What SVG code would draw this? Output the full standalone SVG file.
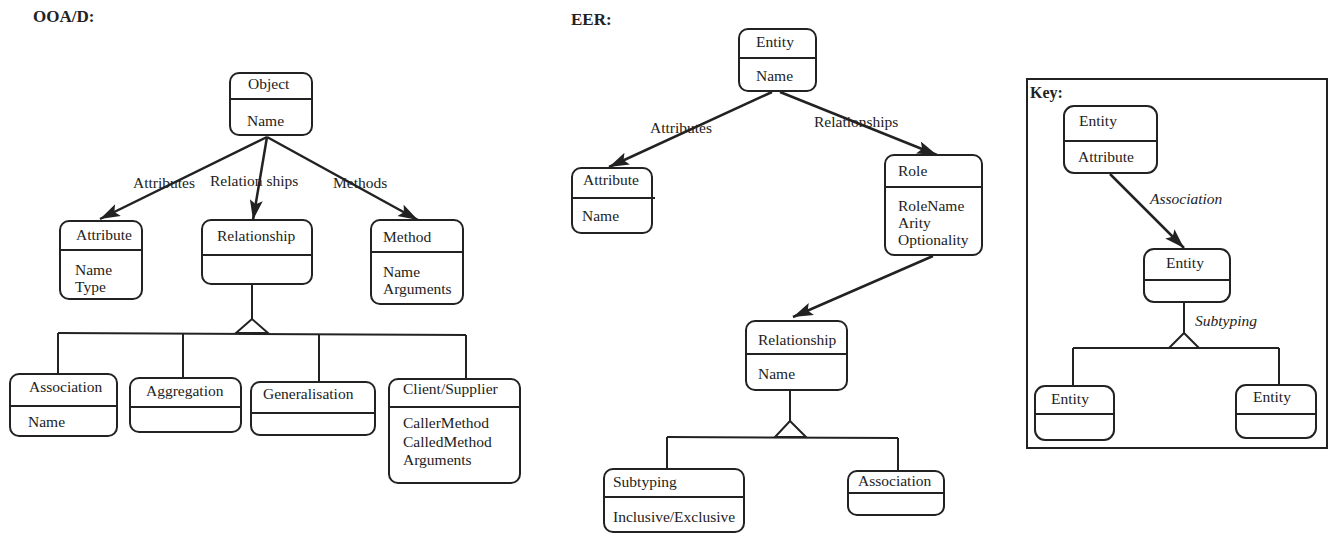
<svg xmlns="http://www.w3.org/2000/svg" width="1333" height="533" viewBox="0 0 1333 533">
  <style>
    .box { fill: #fff; stroke: #222; stroke-width: 2; }
    .div { stroke: #222; stroke-width: 2; }
    .t { font-family: "Liberation Serif", "Times New Roman", serif; font-size: 15.5px; fill: #222; }
    .h { font-family: "Liberation Serif", "Times New Roman", serif; font-size: 17px; font-weight: bold; fill: #222; }
    .i { font-family: "Liberation Serif", "Times New Roman", serif; font-size: 15.5px; font-style: italic; fill: #222; }
    .arr { stroke: #222; stroke-width: 2.5; fill: none; marker-end: url(#head); }
    .ln { stroke: #222; stroke-width: 2; fill: none; }
    .tri { fill: #fff; stroke: #222; stroke-width: 2; stroke-linejoin: miter; }
  </style>
  <defs>
    <marker id="head" markerUnits="userSpaceOnUse" markerWidth="22" markerHeight="14" refX="20" refY="6.5" orient="auto">
      <path d="M0,0 L20,6.5 L0,13 L4,6.5 Z" fill="#222"/>
    </marker>
  </defs>
  <rect width="1333" height="533" fill="#fff"/>

  <!-- section titles -->
  <text class="h" x="33" y="22">OOA/D:</text>
  <text class="h" x="571" y="25">EER:</text>

  <!-- connectors -->
  <g id="connectors">
    <!-- OOA/D -->
    <line class="arr" x1="267" y1="137" x2="100" y2="219"/>
    <line class="arr" x1="267" y1="137" x2="253" y2="220"/>
    <line class="arr" x1="267" y1="137" x2="418" y2="220"/>
    <line class="ln" x1="252" y1="284" x2="252" y2="319"/>
    <line class="ln" x1="58" y1="333" x2="466" y2="335"/>
    <polygon class="tri" points="252,319 236,333 268,333"/>
    <line class="ln" x1="58" y1="333" x2="58" y2="374"/>
    <line class="ln" x1="183" y1="334" x2="183" y2="378"/>
    <line class="ln" x1="319" y1="334" x2="319" y2="382"/>
    <line class="ln" x1="466" y1="335" x2="466" y2="379"/>
    <!-- EER -->
    <line class="arr" x1="772" y1="92" x2="609" y2="167"/>
    <line class="arr" x1="780" y1="92" x2="937" y2="155"/>
    <line class="arr" x1="933" y1="256" x2="793" y2="317"/>
    <line class="ln" x1="790" y1="390" x2="790" y2="421"/>
    <line class="ln" x1="667" y1="437" x2="898" y2="438"/>
    <polygon class="tri" points="790,421 775,437 806,437"/>
    <line class="ln" x1="667" y1="437" x2="667" y2="469"/>
    <line class="ln" x1="898" y1="438" x2="898" y2="471"/>
    <!-- Key -->
    <line class="arr" x1="1110" y1="174" x2="1184" y2="248"/>
    <line class="ln" x1="1184" y1="302" x2="1184" y2="333"/>
    <line class="ln" x1="1073" y1="348" x2="1279" y2="348"/>
    <polygon class="tri" points="1184,333 1169,348 1199,348"/>
    <line class="ln" x1="1073" y1="348" x2="1073" y2="386"/>
    <line class="ln" x1="1279" y1="348" x2="1279" y2="385"/>
  </g>

  <!-- connector labels -->
  <g id="labels">
    <text class="t" x="133" y="188">Attributes</text>
    <text class="t" x="210" y="186">Relation ships</text>
    <text class="t" x="333" y="188">Methods</text>
    <text class="t" x="650" y="133">Attributes</text>
    <text class="t" x="814" y="127">Relationships</text>
    <text class="i" x="1150" y="204">Association</text>
    <text class="i" x="1195" y="326">Subtyping</text>
  </g>

  <!-- OOA/D nodes -->
  <g id="ooa-object">
    <rect class="box" x="230" y="73" width="82" height="62" rx="9"/>
    <line class="div" x1="230" y1="99" x2="312" y2="99"/>
    <text class="t" x="248" y="89">Object</text>
    <text class="t" x="247" y="126">Name</text>
  </g>
  <g id="ooa-attribute">
    <rect class="box" x="60" y="221" width="82" height="78" rx="9"/>
    <line class="div" x1="60" y1="250" x2="142" y2="250"/>
    <text class="t" x="76" y="240">Attribute</text>
    <text class="t" x="75" y="275">Name</text>
    <text class="t" x="75" y="292">Type</text>
  </g>
  <g id="ooa-relationship">
    <rect class="box" x="202" y="220" width="110" height="64" rx="9"/>
    <line class="div" x1="202" y1="255" x2="312" y2="255"/>
    <text class="t" x="217" y="241">Relationship</text>
  </g>
  <g id="ooa-method">
    <rect class="box" x="371" y="220" width="92" height="84" rx="9"/>
    <line class="div" x1="371" y1="252" x2="463" y2="252"/>
    <text class="t" x="383" y="242">Method</text>
    <text class="t" x="383" y="277">Name</text>
    <text class="t" x="383" y="294">Arguments</text>
  </g>
  <g id="ooa-association">
    <rect class="box" x="10" y="374" width="107" height="62" rx="9"/>
    <line class="div" x1="10" y1="406" x2="117" y2="406"/>
    <text class="t" x="29" y="392">Association</text>
    <text class="t" x="28" y="427">Name</text>
  </g>
  <g id="ooa-aggregation">
    <rect class="box" x="130" y="378" width="111" height="54" rx="9"/>
    <line class="div" x1="130" y1="407" x2="241" y2="407"/>
    <text class="t" x="146" y="396">Aggregation</text>
  </g>
  <g id="ooa-generalisation">
    <rect class="box" x="251" y="382" width="124" height="53" rx="9"/>
    <line class="div" x1="251" y1="413" x2="375" y2="413"/>
    <text class="t" x="263" y="399">Generalisation</text>
  </g>
  <g id="ooa-client-supplier">
    <rect class="box" x="389" y="379" width="131" height="104" rx="9"/>
    <line class="div" x1="389" y1="407" x2="520" y2="407"/>
    <text class="t" x="403" y="394">Client/Supplier</text>
    <text class="t" x="403" y="428">CallerMethod</text>
    <text class="t" x="403" y="447">CalledMethod</text>
    <text class="t" x="403" y="465">Arguments</text>
  </g>

  <!-- EER nodes -->
  <g id="eer-entity">
    <rect class="box" x="739" y="29" width="77" height="62" rx="9"/>
    <line class="div" x1="739" y1="58" x2="816" y2="58"/>
    <text class="t" x="756" y="47">Entity</text>
    <text class="t" x="756" y="81">Name</text>
  </g>
  <g id="eer-attribute">
    <rect class="box" x="572" y="168" width="80" height="65" rx="9"/>
    <line class="div" x1="572" y1="198" x2="655" y2="198"/>
    <text class="t" x="583" y="185">Attribute</text>
    <text class="t" x="582" y="221">Name</text>
  </g>
  <g id="eer-role">
    <rect class="box" x="885" y="155" width="97" height="100" rx="9"/>
    <line class="div" x1="885" y1="187" x2="982" y2="187"/>
    <text class="t" x="898" y="176">Role</text>
    <text class="t" x="898" y="211">RoleName</text>
    <text class="t" x="898" y="228">Arity</text>
    <text class="t" x="898" y="245">Optionality</text>
  </g>
  <g id="eer-relationship">
    <rect class="box" x="746" y="321" width="101" height="69" rx="9"/>
    <line class="div" x1="746" y1="354" x2="847" y2="354"/>
    <text class="t" x="758" y="345">Relationship</text>
    <text class="t" x="758" y="379">Name</text>
  </g>
  <g id="eer-subtyping">
    <rect class="box" x="604" y="469" width="140" height="63" rx="9"/>
    <line class="div" x1="604" y1="497" x2="744" y2="497"/>
    <text class="t" x="613" y="487">Subtyping</text>
    <text class="t" x="613" y="522">Inclusive/Exclusive</text>
  </g>
  <g id="eer-association">
    <rect class="box" x="848" y="471" width="96" height="44" rx="9"/>
    <line class="div" x1="848" y1="493" x2="944" y2="493"/>
    <text class="t" x="858" y="486">Association</text>
  </g>

  <!-- Key -->
  <g id="key">
    <rect x="1027" y="79" width="300" height="369" fill="none" stroke="#222" stroke-width="2"/>
    <text class="h" x="1030" y="98" style="font-size:16px">Key:</text>
  </g>
  <g id="key-entity-top">
    <rect class="box" x="1064" y="106" width="93" height="67" rx="10"/>
    <line class="div" x1="1064" y1="141" x2="1157" y2="141"/>
    <text class="t" x="1079" y="126">Entity</text>
    <text class="t" x="1078" y="162">Attribute</text>
  </g>
  <g id="key-entity-mid">
    <rect class="box" x="1144" y="249" width="86" height="53" rx="10"/>
    <line class="div" x1="1144" y1="280" x2="1230" y2="280"/>
    <text class="t" x="1166" y="268">Entity</text>
  </g>
  <g id="key-entity-left">
    <rect class="box" x="1035" y="386" width="79" height="54" rx="10"/>
    <line class="div" x1="1035" y1="414" x2="1114" y2="414"/>
    <text class="t" x="1051" y="404">Entity</text>
  </g>
  <g id="key-entity-right">
    <rect class="box" x="1236" y="385" width="80" height="53" rx="10"/>
    <line class="div" x1="1236" y1="414" x2="1316" y2="414"/>
    <text class="t" x="1253" y="402">Entity</text>
  </g>
</svg>
